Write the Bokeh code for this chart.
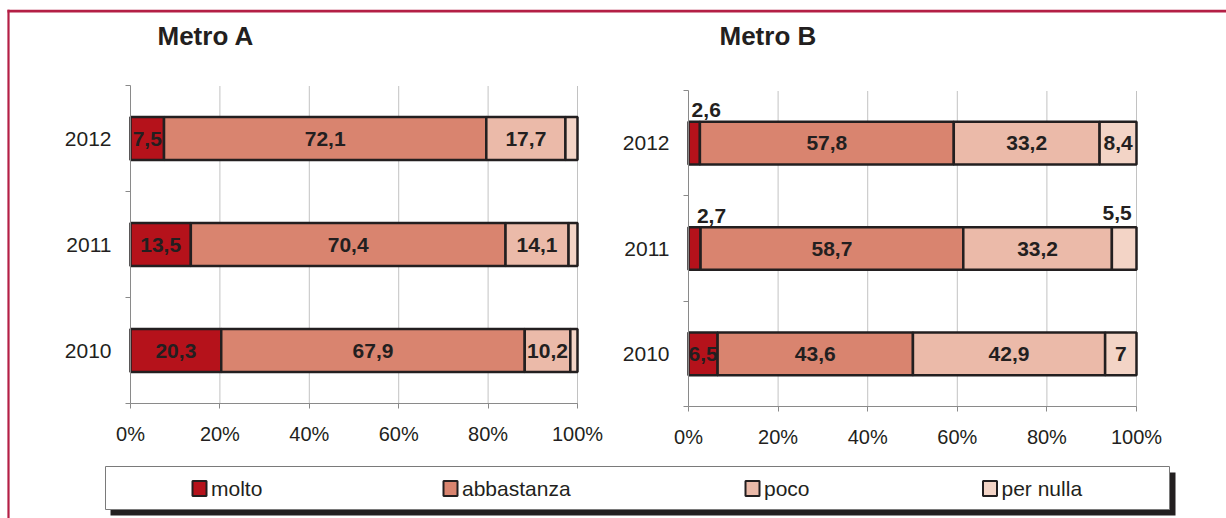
import numpy as np
from bokeh.plotting import figure
from bokeh.models import Range1d, LinearAxis, FixedTicker, ColumnDataSource
from bokeh.embed import file_html
from bokeh.resources import INLINE
from bokeh.core.properties import value

# ---- data -------------------------------------------------------------
years = ["2010", "2011", "2012"]
series = ["molto", "abbastanza", "poco", "per nulla"]

metro_a_molto = [20.3, 13.5, 7.5]
metro_a_abbastanza = [67.9, 70.4, 72.1]
metro_a_poco = [10.2, 14.1, 17.7]
metro_a_per_nulla = [1.6, 2.0, 2.7]

metro_b_molto = [6.5, 2.7, 2.6]
metro_b_abbastanza = [43.6, 58.7, 57.8]
metro_b_poco = [42.9, 33.2, 33.2]
metro_b_per_nulla = [7.0, 5.5, 8.4]

x_ticks = [0, 20, 40, 60, 80, 100]
x_tick_labels = ["0%", "20%", "40%", "60%", "80%", "100%"]

# ---- style ------------------------------------------------------------
colors = ["#b5121b", "#d9846f", "#ebbaa9", "#f3d4c6"]
ink = "#231f20"
axis_grey = "#8a8a8a"
frame_red = "#b41f45"
FONT = "Liberation Sans"

W, H = 1226, 518

# panel boxes in page pixels: (x at 0 %, x at 100 %, top of axis, bottom of axis)
panels = [
    dict(key="a", title="Metro A", title_x=157,
         values=[metro_a_molto, metro_a_abbastanza, metro_a_poco, metro_a_per_nulla],
         labelled=[True, True, True, False],
         box=(130, 577, 85, 403)),
    dict(key="b", title="Metro B", title_x=719,
         values=[metro_b_molto, metro_b_abbastanza, metro_b_poco, metro_b_per_nulla],
         labelled=[True, True, True, True],
         box=(688, 1136, 90, 406)),
]

# labels that sit above their bar: (panel, year index, series index) -> pixel nudge
nudges = {("b", 2, 0): (12, -33), ("b", 1, 0): (17, -33), ("b", 1, 3): (-7, -36)}

BAR_H = 0.405


def fmt(v):
    return f"{v:g}".replace(".", ",")


p = figure(width=W, height=H, x_range=Range1d(0, W), y_range=Range1d(H, 0),
           x_axis_type=None, y_axis_type=None, toolbar_location=None,
           output_backend="svg", min_border=0, outline_line_color=None,
           background_fill_color="white", border_fill_color="white")

# page frame (top and left rule)
p.segment(x0=[7], y0=[10.6], x1=[W], y1=[10.6], line_color=frame_red, line_width=2.8)
p.segment(x0=[8], y0=[9.3], x1=[8], y1=[H], line_color=frame_red, line_width=2.2)

n_cat = len(years)
for pn in panels:
    x0px, x1px, ytop, ybot = pn["box"]
    sx = (x1px - x0px) / 100.0
    sy = (ybot - ytop) / n_cat
    xr, yr = "x" + pn["key"], "y" + pn["key"]
    p.extra_x_ranges[xr] = Range1d(-x0px / sx, (W - x0px) / sx)
    p.extra_y_ranges[yr] = Range1d(-(H - ybot) / sy, ybot / sy)

    # title
    p.text(x=[pn["title_x"]], y=[35], text=[pn["title"]], text_font=value(FONT),
           text_font_size="26px", text_font_style="bold", text_color=ink,
           text_align="left", text_baseline="middle")

    # dotted vertical grid
    gx = x_ticks[1:]
    p.segment(x0=gx, y0=[0] * len(gx), x1=gx, y1=[n_cat] * len(gx),
              x_range_name=xr, y_range_name=yr, line_color="#858585",
              line_width=1, line_dash="1 1")

    vals = np.array(pn["values"], dtype=float)        # series x years
    pct = vals / vals.sum(axis=0) * 100.0
    right = np.cumsum(pct, axis=0)
    left = right - pct
    ycen = np.arange(n_cat) + 0.5                      # category centres

    for si, name in enumerate(series):
        src = ColumnDataSource(dict(y=ycen, left=left[si], right=right[si]))
        p.hbar(y="y", left="left", right="right", height=BAR_H, source=src,
               x_range_name=xr, y_range_name=yr, fill_color=colors[si],
               line_color=ink, line_width=2.5)

    for si, name in enumerate(series):
        if not pn["labelled"][si]:
            continue
        for yi in range(n_cat):
            dx, dy = nudges.get((pn["key"], yi, si), (0, 0))
            p.text(x=[(left[si][yi] + right[si][yi]) / 2], y=[ycen[yi]],
                   text=[fmt(vals[si][yi])],
                   x_offset=dx, y_offset=dy, x_range_name=xr, y_range_name=yr,
                   text_font=value(FONT), text_font_size="21px", text_font_style="bold",
                   text_color=ink, text_align="center", text_baseline="middle")

    # percentage axis
    overrides = {}
    for t, lab in zip(x_ticks, x_tick_labels):
        overrides[t] = lab
        overrides[str(t)] = lab
    xaxis = LinearAxis(x_range_name=xr, y_range_name=yr, fixed_location=0,
                       bounds=(0, 100), ticker=FixedTicker(ticks=x_ticks),
                       major_label_overrides=overrides,
                       axis_line_color=axis_grey, major_tick_line_color=axis_grey,
                       major_tick_in=0, major_tick_out=5, minor_tick_line_color=None,
                       major_label_standoff=14, major_label_text_font=FONT,
                       major_label_text_font_size="20px", major_label_text_color=ink)
    p.add_layout(xaxis, "below")

    # year axis: labels at category centres, ticks at category boundaries
    centres = [i + 0.5 for i in range(n_cat)]
    yover = {}
    for c, yl in zip(centres, years):
        yover[c] = yl
        yover[str(c)] = yl
    yaxis = LinearAxis(x_range_name=xr, y_range_name=yr, fixed_location=0,
                       bounds=(0, n_cat),
                       ticker=FixedTicker(ticks=centres, minor_ticks=list(range(n_cat + 1))),
                       major_label_overrides=yover,
                       axis_line_color=axis_grey, major_tick_line_color=None,
                       major_tick_in=0, major_tick_out=0,
                       minor_tick_line_color=axis_grey, minor_tick_in=0, minor_tick_out=5,
                       major_label_standoff=14, major_label_text_font=FONT,
                       major_label_text_font_size="21px", major_label_text_color=ink)
    p.add_layout(yaxis, "left")

# legend box with drop shadow
p.quad(left=[110], right=[1175], top=[472], bottom=[515], fill_color=ink, line_color=None)
p.quad(left=[105], right=[1169], top=[466], bottom=[509], fill_color="white",
       line_color="#7a7a7a", line_width=1)
legend_x = [192, 443, 745, 982.5]
for name, col, lx in zip(series, colors, legend_x):
    p.quad(left=[lx], right=[lx + 14], top=[480.5], bottom=[495.5], fill_color=col,
           line_color=ink, line_width=2)
    p.text(x=[lx + 18.5], y=[488], text=[name], text_font=value(FONT),
           text_font_size="21px", text_color=ink, text_align="left",
           text_baseline="middle")

open("out.html", "w").write(file_html(p, INLINE))
